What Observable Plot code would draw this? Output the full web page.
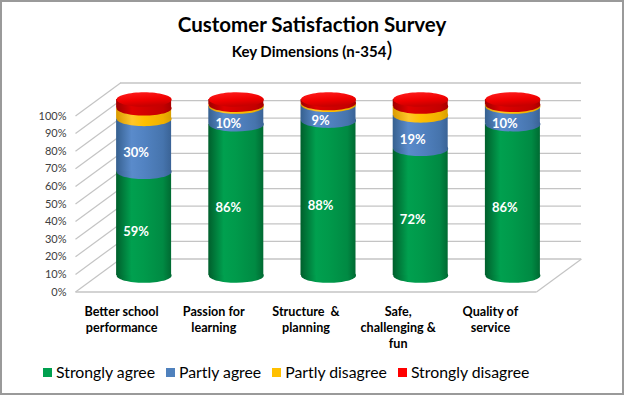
<!DOCTYPE html>
<html>
<head>
<meta charset="utf-8">
<script src="https://cdn.jsdelivr.net/npm/d3@7"></script>
<script src="https://cdn.jsdelivr.net/npm/@observablehq/plot@0.6"></script>
<style>
  html, body { margin: 0; padding: 0; background: #fff; }
  #wrap { position: relative; width: 624px; height: 395px; overflow: hidden; background: #fff; font-family: Lato, "Open Sans", sans-serif; }
  #border { position: absolute; left: 0; top: 0; width: 624px; height: 395px; box-sizing: border-box; border: 2px solid #9a9a9a; pointer-events: none; z-index: 5; }
  #title { position: absolute; top: 13.5px; left: 0; width: 624px; text-align: center; font-weight: bold; font-size: 20.5px; line-height: 20.5px; color: #000; white-space: nowrap; }
  #subtitle { position: absolute; top: 43.5px; left: 0; width: 624px; text-align: center; font-weight: bold; font-size: 15px; line-height: 15px; color: #000; white-space: nowrap; }
  #subtitle .paren { font-size: 22px; font-weight: normal; line-height: 0; }
  #chart { position: absolute; top: 65px; left: 0; }
  #legend { position: absolute; top: 364px; left: 43px; display: flex; align-items: flex-start; font-size: 15.8px; line-height: 16px; color: #000; white-space: nowrap; }
  #legend .item { display: flex; align-items: flex-start; margin-right: 11px; }
  #legend .sw { width: 9px; height: 9px; margin-top: 4px; margin-right: 4px; }
</style>
</head>
<body>
<div id="wrap">
  <div id="title">Customer Satisfaction Survey</div>
  <div id="subtitle">Key Dimensions (n-354<span class="paren">)</span></div>
  <div id="chart"></div>
  <div id="legend"></div>
  <div id="border"></div>
</div>
<script>
// ---------- data ----------
const categories = ["Better school\nperformance", "Passion for\nlearning", "Structure  &\nplanning", "Safe,\nchallenging &\nfun", "Quality of\nservice"];
const seriesNames = ["Strongly agree", "Partly agree", "Partly disagree", "Strongly disagree"];
const stronglyAgree    = [59, 86, 88, 72, 86];
const partlyAgree      = [30, 10,  9, 19, 10];
const partlyDisagree   = [ 6,  1,  1,  5,  1];
const stronglyDisagree = [ 5,  3,  2,  4,  3];
const labelledSeries = ["Strongly agree", "Partly agree"];
const yTicks = [0, 10, 20, 30, 40, 50, 60, 70, 80, 90, 100];
const legendColors = ["#00a04f", "#4f81bd", "#ffc000", "#ff0000"];

const seriesValues = [stronglyAgree, partlyAgree, partlyDisagree, stronglyDisagree];

// ---------- layout ----------
const W = 624, H = 287;
const mL = 97.5, mR = 65.5, mT = 34, mB = 77;
const pxPerX = (W - mL - mR) / categories.length;
const pxPerY = (H - mT - mB) / 100;
const halfDepthPxX = 22.5, halfDepthPxY = 16.5;
const ax = halfDepthPxX / pxPerX;   // half depth in x data units
const ay = halfDepthPxY / pxPerY;   // half depth in y data units
const barWidth = 55;
const inset = (pxPerX - barWidth) / 2;
const grid = "#c4c4c4";

// stacked rows
const rows = [];
const cum = categories.map(() => 0);
seriesNames.forEach((s, k) => {
  categories.forEach((c, i) => {
    const v = seriesValues[k][i];
    rows.push({series: s, k, i, cat: c, value: v, y1: cum[i], y2: cum[i] + v});
    cum[i] += v;
  });
});
const tops = categories.map((c, i) => ({i, y: cum[i]}));

// ellipse symbol (cylinder caps)
const ellipse = {
  draw(ctx, size) {
    const rx = Math.sqrt(size / Math.PI), ry = rx * 0.265, k = 0.5523;
    ctx.moveTo(rx, 0);
    ctx.bezierCurveTo(rx, ry * k, rx * k, ry, 0, ry);
    ctx.bezierCurveTo(-rx * k, ry, -rx, ry * k, -rx, 0);
    ctx.bezierCurveTo(-rx, -ry * k, -rx * k, -ry, 0, -ry);
    ctx.bezierCurveTo(rx * k, -ry, rx, -ry * k, rx, 0);
    ctx.closePath();
  }
};

const cylMarks = seriesNames.flatMap((s, k) => {
  const d = rows.filter(r => r.series === s);
  return [
    Plot.dot(d, {x: r => r.i + 0.5, y: "y1", r: barWidth / 2, symbol: ellipse, fill: `url(#cyl${k})`}),
    Plot.rectY(d, {x1: r => r.i, x2: r => r.i + 1, y1: "y1", y2: "y2", insetLeft: inset, insetRight: inset, fill: `url(#cyl${k})`})
  ];
});

const plot = Plot.plot({
  width: W, height: H,
  marginLeft: mL, marginRight: mR, marginTop: mT, marginBottom: mB,
  style: {fontFamily: "Lato, 'Open Sans', sans-serif", background: "transparent", overflow: "visible"},
  x: {domain: [0, categories.length], axis: null},
  y: {domain: [0, 100], axis: null},
  marks: [
    // back wall grid
    Plot.ruleY(yTicks, {y: t => t + ay, x1: () => ax, x2: () => categories.length + ax, stroke: grid, strokeWidth: 1.3}),
    // left wall grid
    Plot.link(yTicks, {x1: () => -ax, y1: t => t - ay, x2: () => ax, y2: t => t + ay, stroke: grid, strokeWidth: 1.2}),
    // floor
    Plot.link([0], {x1: () => -ax, y1: () => -ay, x2: () => categories.length - ax, y2: () => -ay, stroke: grid, strokeWidth: 1.3}),
    Plot.link([0], {x1: () => categories.length - ax, y1: () => -ay, x2: () => categories.length + ax, y2: () => ay, stroke: grid, strokeWidth: 1.2}),
    // y labels
    Plot.text(yTicks, {x: () => -ax, y: t => t - ay, text: t => t + "%", textAnchor: "end", dx: -9, fill: "#404040", fontSize: 11}),
    // category labels
    Plot.text(categories, {x: (d, i) => i + 0.5 - ax, y: () => -ay, text: d => d, lineAnchor: "top", dy: 13, fontWeight: "bold", fontSize: 12.6, lineHeight: 1.25, fill: "#000"}),
    // cylinders
    ...cylMarks,
    Plot.dot(tops, {x: d => d.i + 0.5, y: "y", r: barWidth / 2, symbol: ellipse, fill: "url(#cylTop)"}),
    // data labels
    Plot.text(rows.filter(r => labelledSeries.includes(r.series)), {x: r => r.i + 0.5, y: r => (r.y1 + r.y2) / 2, text: r => r.value + "%", fill: "white", fontWeight: "bold", fontSize: 13, dx: -8, dy: 8})
  ]
});

// gradients for cylinder shading
const gradStops = [
  [[0, "#005f2c"], [0.28, "#00a04f"], [0.5, "#009a4b"], [0.85, "#008a43"], [1, "#006a32"]],
  [[0, "#36608f"], [0.28, "#5a8bcb"], [0.5, "#5283c2"], [0.85, "#4674ad"], [1, "#3a6396"]],
  [[0, "#d99a00"], [0.28, "#ffc62a"], [0.5, "#ffc000"], [0.85, "#f0b000"], [1, "#d9a000"]],
  [[0, "#a00000"], [0.28, "#e00000"], [0.5, "#d40000"], [0.85, "#c40000"], [1, "#a80000"]]
];
const defs = d3.select(plot).insert("defs", ":first-child");
gradStops.forEach((stops, k) => {
  const g = defs.append("linearGradient").attr("id", `cyl${k}`).attr("x1", 0).attr("x2", 1).attr("y1", 0).attr("y2", 0);
  stops.forEach(([o, c]) => g.append("stop").attr("offset", o).attr("stop-color", c));
});
const gt = defs.append("linearGradient").attr("id", "cylTop").attr("x1", 0).attr("x2", 0.3).attr("y1", 0).attr("y2", 1);
[[0, "#ff2020"], [0.6, "#f00000"], [1, "#c80000"]].forEach(([o, c]) => gt.append("stop").attr("offset", o).attr("stop-color", c));

document.getElementById("chart").appendChild(plot);

// legend
const legend = document.getElementById("legend");
seriesNames.forEach((s, k) => {
  const item = document.createElement("div");
  item.className = "item";
  const sw = document.createElement("div");
  sw.className = "sw";
  sw.style.background = legendColors[k];
  const t = document.createElement("span");
  t.textContent = s;
  item.appendChild(sw); item.appendChild(t);
  legend.appendChild(item);
});
</script>
</body>
</html>
